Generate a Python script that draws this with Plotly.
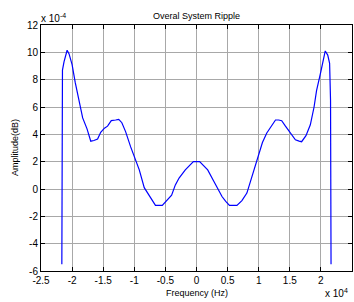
import plotly.graph_objects as go

# Frequency in units of 1e4 Hz, amplitude in units of 1e-4
freq = [-2.165, -2.162, -2.155, -2.13, -2.08, -2.05, -2.0, -1.95, -1.89, -1.83,
        -1.76, -1.70, -1.65, -1.59, -1.54, -1.48, -1.43, -1.37, -1.30, -1.25,
        -1.20, -1.14, -1.06, -1.00, -0.92, -0.84, -0.75, -0.66, -0.55, -0.47,
        -0.40, -0.34, -0.28, -0.18, -0.10, -0.05, 0.05, 0.10, 0.18, 0.28,
        0.34, 0.41, 0.47, 0.53, 0.65, 0.73, 0.81, 0.87, 0.92, 1.00,
        1.06, 1.13, 1.20, 1.27, 1.32, 1.37, 1.43, 1.48, 1.54, 1.59,
        1.65, 1.69, 1.76, 1.83, 1.89, 1.93, 2.0, 2.04, 2.07, 2.11,
        2.14, 2.155, 2.16, 2.163]
amp = [-5.5, 2.0, 8.7, 9.3, 10.15, 9.9, 9.1, 7.8, 6.5, 5.2,
       4.4, 3.5, 3.55, 3.65, 4.15, 4.45, 4.6, 5.0, 5.05, 5.1,
       4.85, 4.2, 3.1, 2.3, 1.4, 0.1, -0.55, -1.2, -1.2, -0.8,
       -0.45, 0.3, 0.8, 1.4, 1.75, 2.0, 2.0, 1.75, 1.4, 0.55,
       0.0, -0.55, -0.9, -1.2, -1.2, -0.85, -0.3, 0.6, 1.4, 2.6,
       3.4, 4.1, 4.6, 5.05, 5.05, 5.0, 4.6, 4.3, 3.9, 3.6,
       3.5, 3.46, 3.9, 4.7, 6.0, 7.2, 8.6, 9.6, 10.1, 9.8,
       9.2, 6.5, 1.0, -5.5]

x_ticks = [-2.5, -2, -1.5, -1, -0.5, 0, 0.5, 1, 1.5, 2, 2.5]
y_ticks = [-6, -4, -2, 0, 2, 4, 6, 8, 10, 12]

font = "Liberation Sans, Arial, sans-serif"

fig = go.Figure()
fig.add_trace(go.Scatter(x=freq, y=amp, mode="lines",
                         line=dict(color="#0000ff", width=1.2), showlegend=False))

axis_common = dict(showline=True, linecolor="black", linewidth=1, mirror="ticks",
                   ticks="inside", ticklen=4, tickcolor="black",
                   showgrid=True, gridcolor="#a8a8a8", gridwidth=1,
                   zeroline=False, tickfont=dict(family=font, size=10, color="black"))

fig.update_layout(
    width=354, height=302,
    margin=dict(l=41, r=2, t=25, b=31),
    paper_bgcolor="white", plot_bgcolor="white",
    font=dict(family=font, size=10, color="black"),
    xaxis=dict(range=[-2.5, 2.5], tickvals=x_ticks,
               ticktext=[f"{v:g}" for v in x_ticks], ticklabelstandoff=0, **axis_common),
    yaxis=dict(range=[-6, 12], tickvals=y_ticks,
               ticktext=[f"{v:g}" for v in y_ticks], **axis_common),
    annotations=[
        dict(text="Overal System Ripple", x=0.5, xref="paper", y=1, yref="paper",
             yanchor="bottom", yshift=2, showarrow=False, font=dict(family=font, size=9)),
        dict(text="x 10<sup>-4</sup>", x=0, xref="paper", y=1, yref="paper",
             xanchor="left", yanchor="bottom", xshift=-2, yshift=-1, showarrow=False,
             font=dict(family=font, size=10)),
        dict(text="Frequency (Hz)", x=0.5, xref="paper", y=0, yref="paper",
             yanchor="top", yshift=-15, showarrow=False, font=dict(family=font, size=9)),
        dict(text="x 10<sup>4</sup>", x=1, xref="paper", y=0, yref="paper",
             xanchor="right", yanchor="top", xshift=-2, yshift=-14, showarrow=False,
             font=dict(family=font, size=10)),
        dict(text="Amplitude(dB)", x=0, xref="paper", y=0.5, yref="paper",
             xanchor="center", yanchor="middle", xshift=-26, textangle=-90,
             showarrow=False, font=dict(family=font, size=9)),
    ],
)

fig.write_html("out.html", config={"displayModeBar": False},
               post_script="document.body.style.margin='0';")
